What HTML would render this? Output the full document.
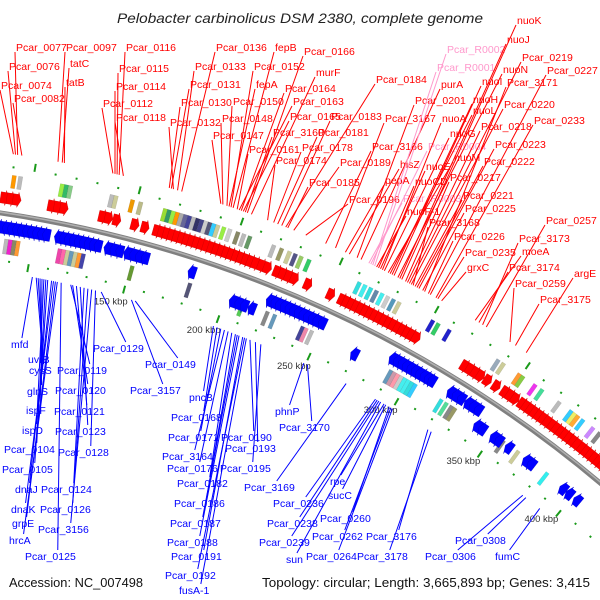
<!DOCTYPE html>
<html><head><meta charset="utf-8"><style>
html,body{margin:0;padding:0;background:#fff;width:600px;height:600px;overflow:hidden;}
svg{display:block;font-family:"Liberation Sans",sans-serif;overflow:hidden;}
</style></head><body>
<svg id="chart" width="600" height="600" viewBox="0 0 600 600" xmlns="http://www.w3.org/2000/svg">
<rect width="600" height="600" fill="#fff"/>
<text x="300" y="23" text-anchor="middle" font-size="14" font-style="italic" fill="#222" textLength="366" lengthAdjust="spacingAndGlyphs">Pelobacter carbinolicus DSM 2380, complete genome</text>
<g id="tracks"></g>
<g id="labels"></g>
<text x="9" y="587" font-size="13" fill="#111" textLength="134" lengthAdjust="spacingAndGlyphs">Accession: NC_007498</text>
<text x="262" y="587" font-size="13" fill="#111" textLength="328" lengthAdjust="spacingAndGlyphs">Topology: circular; Length: 3,665,893 bp; Genes: 3,415</text>
</svg>
<script>
// ---- data ----
const forwardGenes = [88,91,94, 111,114,117, 136,139,143, 152,157,
 163,165.5,168,170.5,173,175.5,178,180.5,183,185.5,188,190.5,193,195.5,198,200.5,203,205.5,208,210.5,213,
 216,219, 224,227,230,233, 240, 252,
 258,260.5,263,265.5,268,270.5,273,275.5,278,280.5,283,285.5,288,290.5,293,295.5,298,
 325,328,331,334, 338,343, 348,351,354, 358,360.5,363,365.5,368,370.5,373, 376,378.5,381,383.5,386,388.5,391,394,396.5,399,401.5,404,406.5,409,411.5];
const reverseGenes = [86,88.5,91,93.5,96,98.5,101,103.5,106,108.5,111,
 117,119.5,122,124.5,127,129.5,132,134.5,137, 142,145,148,152,155,158,161,
 185, 209,212,215,219, 226,228.5,231,233.5,236,238.5,241,243.5,246,248.5,251,254, 275,
 293,295.5,298,300.5,303,305.5,308,310.5,313,315, 326,329,332,336,339,342, 346,349, 356,359,365, 376,379, 399,403,408];
const reverseLane = [0,0,0,0,0,0,0,0,0,0,0, 0,0,0,0,0,0,0,0,0, 0,0,0,0,0,0,0,
 0, 1,1,1,1, 0,0,0,0,0,0,0,0,0,0,0,0, 1,
 0,0,0,0,0,0,0,0,0,0, 0,0,0,0,0,0, 1,1, 1,1,1, 1,1, 1,1,1];
const outerBoxKbp = [91,94,114,116,118,138,140,148,152,164,166,168,170,172,174,176,178,180,182,184,186,188,190,193,196,200,203,206,
 218,222,226,229,232,236,262,265,268,271,274,277,280,283,301,304,310,337,340,349,351,358,362,372,379,381,383,386,392,396];
const outerBoxColor = ["#f90","#bbb","#9e4","#3b6","#8c8","#bbb","#cc9","#e90","#bb8","#9d3","#396","#9e4","#f90","#aaa","#669","#449","#bbb","#336","#448","#ccc","#557","#3cf","#cc9","#9e4",
 "#ccc","#886","#bbb","#696","#bbb","#996","#cc9","#558","#9c6","#3c6","#3dd","#4ee","#3dd","#68a","#4ee","#ccc","#59b","#cc9","#22c","#3c6","#22c","#9ab","#cc9","#f93","#8c4","#e3e","#4d9","#bbb","#3cf","#ee6","#fa3","#3cf","#c8f","#888"];
const innerBoxKbp = [92,94,96,98,119,121,123,125,127,129,131,156,186,214,227,231,246,248,251,295,297,299,301,303,305,307,309,324,327,330,332,361,370,388];
const innerBoxColor = ["#bbb","#e2c","#886","#f93","#e4a","#f6a","#cc9","#69b","#cc9","#f93","#44a","#693","#557","#5c5","#888","#69b","#449","#e8a","#bbb","#69b","#c9a","#f9a","#ccc","#4ee","#4ee","#3dd","#3cf","#3dd","#5d9","#888","#996","#888","#cc9","#3ee"];
const scaleKbp = [150,200,250,300,350,400];
const scaleText = ["150 kbp","200 kbp","250 kbp","300 kbp","350 kbp","400 kbp"];

const redNames = ["Pcar_0074","Pcar_0076","Pcar_0077","Pcar_0082","Pcar_0097","tatC","tatB","Pcar_0112","Pcar_0114","Pcar_0115","Pcar_0116","Pcar_0118",
 "Pcar_0130","Pcar_0131","Pcar_0132","Pcar_0133","Pcar_0136","Pcar_0147","Pcar_0148","Pcar_0150","fepA","Pcar_0152","fepB","Pcar_0161","Pcar_0163","Pcar_0164","Pcar_0165","Pcar_3160","Pcar_0166","murF",
 "Pcar_0174","Pcar_0178","Pcar_0181","Pcar_0183","Pcar_0184","Pcar_0185","Pcar_0189","Pcar_0196","Pcar_3166","Pcar_3167","pepA","hisZ","Pcar_0201","purA",
 "Pcar_R0003","Pcar_R0004","Pcar_R0001","Pcar_R0002","nuoF-1","nuoCD","nuoE","nuoA","nuoG","nuoM","nuoL","nuoH","nuoI","nuoN","nuoJ","nuoK",
 "Pcar_0217","Pcar_0218","Pcar_0219","Pcar_0220","Pcar_3168","Pcar_0221","Pcar_0222","Pcar_0223","Pcar_0225","Pcar_3171","Pcar_0226","Pcar_0227","Pcar_0233",
 "Pcar_0235","grxC","moeA","Pcar_3174","Pcar_3173","Pcar_0257","Pcar_0259","argE","Pcar_3175"];
const redKbp = [89,90,91,93,110,112,113,136,137,138,139,141,
 163,164,165,167,169,188,189,191,192,193,194,196,197,198,199,200,201,203,
 211,214,216,218,220,221,224,230,240,245,250,252,256,258,
 262,263,264,265,266,267,268,269,270,272,273,274,275,277,278,279,
 281,282,283,284,285,286,287,288,290,291,293,294,297,
 298,300,318,320,322,324,337,346,340];
const redX = [1,9,16,14,66,70,66,103,116,119,126,116,181,190,170,195,216,213,222,233,256,254,275,249,293,285,290,273,304,316,
 276,302,318,331,376,309,340,349,372,385,385,400,415,441,
 403,428,437,447,407,415,426,442,450,454,473,473,482,503,507,517,
 450,481,522,504,429,463,484,495,465,507,454,547,534,
 465,467,522,509,519,546,515,574,540];
const redY = [89,70,51,102,51,67,86,107,90,72,51,121,106,88,126,70,51,139,122,105,88,70,51,153,105,92,120,136,55,76,
 164,151,136,120,83,186,166,203,150,122,184,168,104,88,
 202,150,71,53,215,185,170,122,137,161,114,103,85,73,43,24,
 181,130,61,108,226,199,165,148,212,86,240,74,124,
 256,271,255,271,242,224,287,277,303];

const blueNames = ["mfd","uvrB","cysS","glnS","ispF","ispD","Pcar_0104","Pcar_0105","dnaJ","dnaK","grpE","hrcA","Pcar_0125",
 "Pcar_0119","Pcar_0120","Pcar_0121","Pcar_0123","Pcar_0124","Pcar_0126","Pcar_3156","Pcar_0128","Pcar_0129","Pcar_3157","Pcar_0149",
 "pncB","Pcar_0168","Pcar_0171","Pcar_3164","Pcar_0176","Pcar_0182","Pcar_0186","Pcar_0187","Pcar_0188","Pcar_0191","Pcar_0192","fusA-1","Pcar_0190","Pcar_0193","Pcar_0195",
 "phnP","Pcar_3170","Pcar_3169","Pcar_0236","Pcar_0238","Pcar_0239","sun","rpe","sucC","Pcar_0260","Pcar_0262","Pcar_0264","Pcar_3176","Pcar_3178","Pcar_0306","Pcar_0308","fumC"];
const blueKbp = [108,110,111,112,113,114,115,116,118,119,120,121,123,
 128,129,131,133,135,137,139,141,144,160,162,
 204,206,208,210,212,214,216,217,218,220,221,222,224,227,230,
 254,256,278,295,296,297,298,300,301,303,304,305,326,328,385,387,396];
const blueX = [11,28,29,27,26,22,4,2,15,11,12,9,25,57,55,54,55,41,40,38,58,93,130,145,
 189,171,168,162,167,177,174,170,167,171,165,179,221,225,220,
 275,279,244,273,267,259,286,330,328,320,312,306,366,357,425,455,495];
const blueY = [348,363,374,395,414,434,453,473,493,513,527,544,560,374,394,415,435,493,513,533,456,352,394,368,
 401,421,441,460,472,487,507,527,546,560,579,594,441,452,472,
 415,431,491,507,527,546,563,485,499,522,540,560,540,560,560,544,560];

// ---- geometry ----
const CX = -175.7, CY = 1405, R = 1205;
function ang(k){ return (-0.1 + 0.0977*k) * Math.PI/180; }
function pt(k, r){ const a = ang(k); return [CX + r*Math.sin(a), CY - r*Math.cos(a)]; }
function fmt(p){ return p[0].toFixed(1)+','+p[1].toFixed(1); }
const NS = 'http://www.w3.org/2000/svg';
const tracks = document.getElementById('tracks');
const labels = document.getElementById('labels');
function mk(tag, attrs, parent){ const e = document.createElementNS(NS, tag); for (const k in attrs) e.setAttribute(k, attrs[k]); parent.appendChild(e); return e; }

const bb = mk('circle', {cx:CX, cy:CY, r:R, fill:'none', stroke:'#808080', 'stroke-width':5}, tracks);


const bb2 = mk('circle', {cx:CX, cy:CY, r:R+0.8, fill:'none', stroke:'#b0b0b0', 'stroke-width':1.5}, tracks);



for (let k = 80; k <= 420; k += 10) {
  const dash = (k % 50 === 0);
  const o1 = pt(k, R+46), o2 = pt(k, R+(dash?54:48));
  const g1 = mk('line', {x1:o1[0], y1:o1[1], x2:o2[0], y2:o2[1], stroke:'#1a9a1a', 'stroke-width':2}, tracks);
  
  
  const kk = k + 5;
  const i1 = pt(kk, R-46), i2 = pt(kk, R-(kk % 50 === 5 ? 54 : 48));
  const g2 = mk('line', {x1:i1[0], y1:i1[1], x2:i2[0], y2:i2[1], stroke:'#1a9a1a', 'stroke-width':2}, tracks);
  
  
}

function box(k, r1, r2, color, name){
  const a = pt(k-1, r1), b = pt(k+1, r1), c = pt(k+1, r2), d = pt(k-1, r2);
  const p = mk('polygon', {points:[a,b,c,d].map(fmt).join(' '), fill:color, stroke:'rgba(0,0,0,0.15)', 'stroke-width':0.5}, tracks);
  
  
}
outerBoxKbp.forEach((k,i)=>box(k, R+26, R+39, outerBoxColor[i], 'outer-cog-box'));
innerBoxKbp.forEach((k,i)=>box(k, R-25, R-40, innerBoxColor[i], 'inner-cog-box'));

function arrow(k, r1, r2, dir, color, name){
  const s = k - 2*dir, e = k + 2*dir, h = k + 0.4*dir;
  const pts = [pt(s, r1), pt(h, r1), pt(h, r1-2*(r2>r1?1:-1)), pt(e, (r1+r2)/2), pt(h, r2+2*(r2>r1?1:-1)), pt(h, r2), pt(s, r2)];
  const p = mk('polygon', {points:pts.map(fmt).join(' '), fill:color, stroke:color==='#f00'?'#c00':'#00c', 'stroke-width':0.4}, tracks);
  
  
}
forwardGenes.forEach(k=>arrow(k, R+10, R+21, 1, '#f00', 'forward-gene'));
reverseGenes.forEach((k,i)=>{ const o = reverseLane[i]*14; arrow(k, R-8-o, R-20-o, -1, '#00f', 'reverse-gene'); });

scaleKbp.forEach((k,i)=>{
  const p = pt(k, R-65);
  const t = mk('text', {x:p[0], y:p[1]+3, 'text-anchor':'middle', 'font-size':9.5, fill:'#333'}, tracks);
  t.textContent = scaleText[i];
  
  
});

function tw(s){ return s.length*5.6; }
redNames.forEach((n,i)=>{
  const col = n.indexOf('_R') > 0 ? '#f9c' : '#f00';
  const a = pt(redKbp[i], R+60);
  const ln = mk('line', {x1:a[0], y1:a[1], x2:redX[i]-1, y2:redY[i]+1, stroke:col, 'stroke-width':1}, labels);
  
  
  const t = mk('text', {x:redX[i], y:redY[i], 'font-size':10.5, fill:col}, labels);
  t.textContent = n;
  
  
});
blueNames.forEach((n,i)=>{
  const a = pt(blueKbp[i], R-58);
  const ex = blueX[i] + tw(n)*0.65, ey = blueY[i] - 10;
  const ln = mk('line', {x1:a[0], y1:a[1], x2:ex, y2:ey, stroke:'#00f', 'stroke-width':1}, labels);
  
  
  const t = mk('text', {x:blueX[i], y:blueY[i], 'font-size':10.5, fill:'#00f'}, labels);
  t.textContent = n;
  
  
});
</script>
</body></html>
